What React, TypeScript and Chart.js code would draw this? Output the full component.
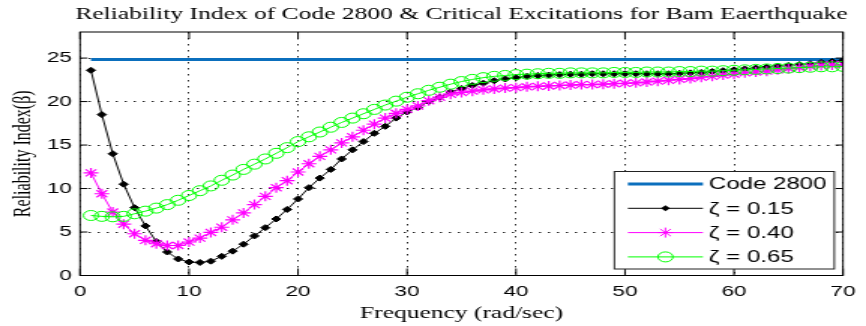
import React, { useEffect, useRef } from 'react';
import { Chart, registerables } from 'chart.js';

Chart.register(...registerables);

const TITLE = 'Reliability Index of Code 2800 & Critical Excitations for Bam Eaerthquake';
const X_TITLE = 'Frequency (rad/sec)';
const Y_TITLE = 'Reliability Index(β)';

const seriesLabels = ['Code 2800', 'ζ = 0.15', 'ζ = 0.40', 'ζ = 0.65'];

const xTicks = [0, 10, 20, 30, 40, 50, 60, 70];
const yTicks = [0, 5, 10, 15, 20, 25];

const frequency = [
  1, 2, 3, 4, 5, 6, 7, 8, 9, 10,
  11, 12, 13, 14, 15, 16, 17, 18, 19, 20,
  21, 22, 23, 24, 25, 26, 27, 28, 29, 30,
  31, 32, 33, 34, 35, 36, 37, 38, 39, 40,
  41, 42, 43, 44, 45, 46, 47, 48, 49, 50,
  51, 52, 53, 54, 55, 56, 57, 58, 59, 60,
  61, 62, 63, 64, 65, 66, 67, 68, 69, 70,
];

const codeFreq = [1, 70];
const code2800 = [24.85, 24.85];

const zeta015 = [
  23.6, 18.5, 14.0, 10.5, 7.8, 5.7, 3.9, 2.7, 1.9, 1.55,
  1.5, 1.65, 2.2, 2.8, 3.6, 4.55, 5.5, 6.5, 7.6, 8.8,
  10.1, 11.2, 12.2, 13.4, 14.45, 15.4, 16.35, 17.15, 18.1, 18.8,
  19.3, 20.0, 20.5, 21.1, 21.5, 21.85, 22.1, 22.4, 22.6, 22.75,
  22.9, 23.0, 23.05, 23.1, 23.15, 23.15, 23.2, 23.2, 23.2, 23.2,
  23.2, 23.2, 23.2, 23.2, 23.25, 23.3, 23.35, 23.45, 23.55, 23.65,
  23.75, 23.85, 23.95, 24.05, 24.15, 24.25, 24.35, 24.5, 24.6, 24.7,
];

const zeta040 = [
  11.8, 9.4, 7.3, 5.9, 4.8, 4.05, 3.65, 3.45, 3.45, 3.85,
  4.3, 4.95, 5.55, 6.4, 7.2, 8.15, 9.1, 10.1, 10.9, 11.9,
  12.85, 13.7, 14.45, 15.25, 15.95, 16.7, 17.4, 18.1, 18.65, 19.1,
  19.5, 20.1, 20.5, 20.85, 21.05, 21.2, 21.35, 21.45, 21.55, 21.6,
  21.7, 21.75, 21.8, 21.85, 21.9, 21.95, 21.95, 22.0, 22.05, 22.1,
  22.15, 22.25, 22.35, 22.45, 22.55, 22.65, 22.8, 22.9, 23.05, 23.15,
  23.3, 23.4, 23.5, 23.65, 23.8, 23.9, 24.05, 24.15, 24.2, 24.25,
];

const zeta065 = [
  6.9, 6.8, 6.75, 6.8, 7.1, 7.4, 7.75, 8.15, 8.65, 9.2,
  9.75, 10.3, 10.95, 11.55, 12.2, 12.8, 13.4, 14.05, 14.7, 15.4,
  15.95, 16.5, 17.05, 17.6, 18.1, 18.6, 19.1, 19.6, 20.05, 20.5,
  20.9, 21.3, 21.65, 22.0, 22.3, 22.55, 22.75, 22.9, 23.0, 23.1,
  23.15, 23.2, 23.25, 23.25, 23.3, 23.3, 23.3, 23.3, 23.35, 23.35,
  23.35, 23.4, 23.4, 23.4, 23.45, 23.45, 23.5, 23.5, 23.55, 23.6,
  23.65, 23.7, 23.75, 23.8, 23.85, 23.9, 23.95, 24.0, 24.0, 24.05,
];

const CANVAS_W = 577;
const CANVAS_H = 326;
const SANS = "'Liberation Sans', Arial, sans-serif";
const SERIF = "'Liberation Serif', 'Times New Roman', serif";

function drawMarker(ctx: CanvasRenderingContext2D, style: string, x: number, y: number, r: number, color: string) {
  ctx.save();
  ctx.strokeStyle = color;
  ctx.fillStyle = color;
  ctx.lineWidth = 1;
  if (style === 'circle') {
    ctx.beginPath();
    ctx.arc(x, y, r, 0, Math.PI * 2);
    ctx.stroke();
  } else if (style === 'star') {
    ctx.beginPath();
    for (let k = 0; k < 4; k++) {
      const a = (k * Math.PI) / 4;
      ctx.moveTo(x - Math.cos(a) * r, y - Math.sin(a) * r);
      ctx.lineTo(x + Math.cos(a) * r, y + Math.sin(a) * r);
    }
    ctx.stroke();
  } else if (style === 'rectRot') {
    ctx.beginPath();
    ctx.moveTo(x, y - r);
    ctx.lineTo(x + r, y);
    ctx.lineTo(x, y + r);
    ctx.lineTo(x - r, y);
    ctx.closePath();
    ctx.fill();
  }
  ctx.restore();
}

const framePlugin = {
  id: 'matlabFrame',
  afterDraw(chart: any) {
    const { ctx, chartArea } = chart;
    const { left, right, top, bottom } = chartArea;
    const xs = chart.scales.x;
    const ys = chart.scales.y;
    ctx.save();
    ctx.strokeStyle = '#000';
    ctx.lineWidth = 1;
    ctx.setLineDash([]);
    ctx.strokeRect(left, top, right - left, bottom - top);
    ctx.beginPath();
    xTicks.forEach((v) => {
      const px = xs.getPixelForValue(v);
      ctx.moveTo(px, bottom);
      ctx.lineTo(px, bottom - 7);
      ctx.moveTo(px, top);
      ctx.lineTo(px, top + 7);
    });
    yTicks.forEach((v) => {
      const py = ys.getPixelForValue(v);
      ctx.moveTo(left, py);
      ctx.lineTo(left + 5, py);
      ctx.moveTo(right, py);
      ctx.lineTo(right - 5, py);
    });
    ctx.stroke();

    // title
    ctx.fillStyle = '#000';
    ctx.font = `17px ${SERIF}`;
    ctx.textAlign = 'center';
    ctx.textBaseline = 'alphabetic';
    ctx.fillText(TITLE, (left + right) / 2, 19);

    // legend
    const bw = 146.5;
    const bh = 97.5;
    const bx = right - 5.8 - bw;
    const by = bottom - 6.5 - bh;
    ctx.fillStyle = '#fff';
    ctx.fillRect(bx, by, bw, bh);
    ctx.strokeStyle = '#222';
    ctx.lineWidth = 1;
    ctx.strokeRect(bx, by, bw, bh);
    const rowH = 24.3;
    chart.data.datasets.forEach((ds: any, i: number) => {
      const cy = by + 12.5 + i * rowH;
      const x0 = bx + 9;
      const x1 = bx + 59;
      ctx.strokeStyle = ds.borderColor;
      ctx.lineWidth = ds.borderWidth;
      ctx.beginPath();
      ctx.moveTo(x0, cy);
      ctx.lineTo(x1, cy);
      ctx.stroke();
      if (ds.pointRadius > 0) {
        drawMarker(ctx, ds.pointStyle, (x0 + x1) / 2, cy, ds.pointRadius, ds.pointBorderColor);
      }
      ctx.fillStyle = '#000';
      ctx.font = `16px ${SANS}`;
      ctx.textAlign = 'left';
      ctx.textBaseline = 'middle';
      ctx.fillText(ds.label, bx + 63, cy + 1);
    });
    ctx.restore();
  },
};

export default function App() {
  const ref = useRef<HTMLCanvasElement>(null);
  useEffect(() => {
    document.body.style.margin = '0';
    const canvas = ref.current;
    if (!canvas) return;
    const toXY = (xsArr: number[], ysArr: number[]) => xsArr.map((x, i) => ({ x, y: ysArr[i] }));
    const chart = new Chart(canvas, {
      type: 'line',
      data: {
        datasets: [
          {
            label: seriesLabels[0],
            data: toXY(codeFreq, code2800),
            borderColor: '#0b6fbd',
            backgroundColor: '#0b6fbd',
            borderWidth: 3,
            pointRadius: 0,
            pointStyle: 'line',
            order: 4,
          },
          {
            label: seriesLabels[1],
            data: toXY(frequency, zeta015),
            borderColor: '#000000',
            backgroundColor: '#000000',
            borderWidth: 1,
            pointStyle: 'rectRot',
            pointRadius: 3,
            pointBackgroundColor: '#000000',
            pointBorderColor: '#000000',
            pointBorderWidth: 1,
            order: 3,
          },
          {
            label: seriesLabels[2],
            data: toXY(frequency, zeta040),
            borderColor: '#ff00ff',
            backgroundColor: '#ff00ff',
            borderWidth: 1,
            pointStyle: 'star',
            pointRadius: 5,
            pointBorderColor: '#ff00ff',
            pointBorderWidth: 1.2,
            order: 2,
          },
          {
            label: seriesLabels[3],
            data: toXY(frequency, zeta065),
            borderColor: '#00ff00',
            backgroundColor: 'rgba(0,0,0,0)',
            borderWidth: 1,
            pointStyle: 'circle',
            pointRadius: 5,
            pointBackgroundColor: 'rgba(0,0,0,0)',
            pointBorderColor: '#00ff00',
            pointBorderWidth: 1,
            order: 1,
          },
        ],
      } as any,
      options: {
        responsive: false,
        animation: false,
        events: [],
        layout: { padding: { top: 32, right: 9.7, left: 0, bottom: 0 } },
        elements: { line: { tension: 0 } },
        plugins: {
          legend: { display: false },
          title: { display: false },
          tooltip: { enabled: false },
        },
        scales: {
          x: {
            type: 'linear',
            min: 0,
            max: 70,
            afterBuildTicks: (s: any) => {
              s.ticks = xTicks.map((v) => ({ value: v }));
            },
            afterFit: (s: any) => {
              s.height = 50.5;
            },
            ticks: {
              color: '#000',
              font: { family: SANS, size: 15 },
              padding: 7,
              maxRotation: 0,
              callback: (v: any) => String(v),
            },
            grid: { color: 'rgba(0,0,0,0.85)', lineWidth: 1, drawTicks: false },
            border: { display: false, dash: [1.5, 4.5] },
            title: {
              display: true,
              text: X_TITLE,
              color: '#000',
              font: { family: SERIF, size: 17 },
              padding: { top: 0, bottom: 2 },
            },
          },
          y: {
            type: 'linear',
            min: 0,
            max: 28,
            afterBuildTicks: (s: any) => {
              s.ticks = yTicks.map((v) => ({ value: v }));
            },
            afterFit: (s: any) => {
              s.width = 53.33;
            },
            ticks: {
              color: '#000',
              font: { family: SANS, size: 15 },
              padding: 5.5,
              callback: (v: any) => String(v),
            },
            grid: { color: 'rgba(0,0,0,0.85)', lineWidth: 1, drawTicks: false },
            border: { display: false, dash: [1.5, 4.5] },
            title: {
              display: true,
              text: Y_TITLE,
              color: '#000',
              font: { family: SERIF, size: 16 },
              padding: { top: 6.4, bottom: 0 },
            },
          },
        },
      } as any,
      plugins: [framePlugin],
    });
    return () => chart.destroy();
  }, []);
  return (
    <div style={{ width: 866, height: 326, background: '#fff' }}>
      <canvas
        ref={ref}
        width={CANVAS_W}
        height={CANVAS_H}
        style={{ width: '866px', height: '326px', display: 'block' }}
      />
    </div>
  );
}
